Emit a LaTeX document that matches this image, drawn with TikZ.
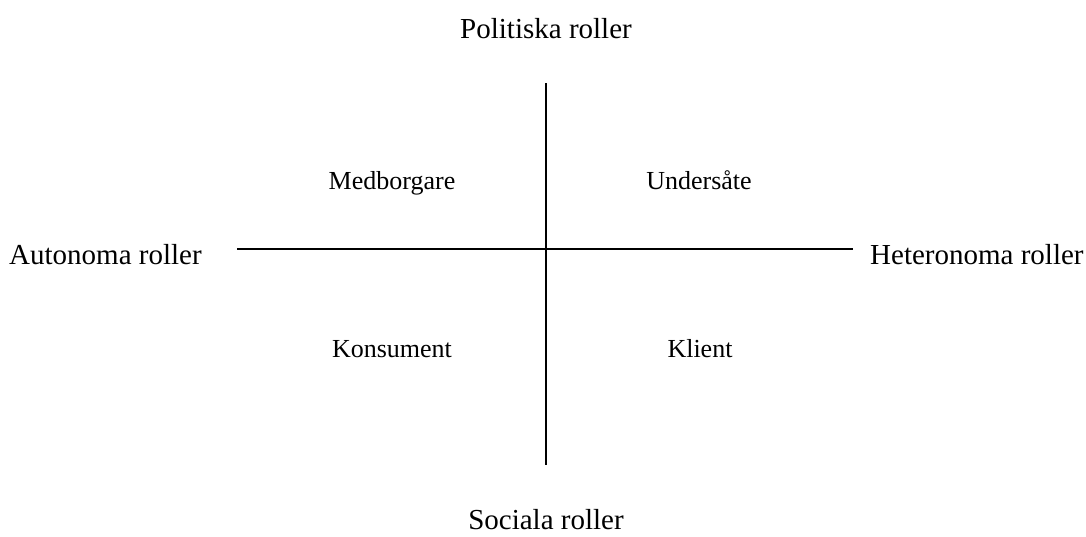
\documentclass[tikz,border=0pt]{standalone}
\usepackage{fontspec}
\setmainfont{Liberation Serif}
\begin{document}
\begin{tikzpicture}[x=1pt, y=-1pt,
    axislabel/.style={anchor=base, inner sep=0pt, font=\fontsize{29}{34}\selectfont},
    rolelabel/.style={anchor=base, inner sep=0pt, font=\fontsize{26}{31}\selectfont}]
    \useasboundingbox (0,0) rectangle (1086,536);
    % Axlarna
    \coordinate (top) at (546,83);
    \coordinate (bottom) at (546,465);
    \coordinate (left) at (237,249);
    \coordinate (right) at (853,249);
    \draw[line width=1.5pt] (top) -- (bottom);
    \draw[line width=1.5pt] (left) -- (right);

    % Axeltexter
    \node[axislabel] (pol) at (546,38) {Politiska roller};
    \node[axislabel] (soc) at (546,529) {Sociala roller};
    \node[axislabel, anchor=base west] (aut) at (9,264) {Autonoma roller};
    \node[axislabel, anchor=base west] (het) at (870,264) {Heteronoma roller};

    % Kvadranterna
    \node[rolelabel] (med) at (392,189) {Medborgare};
    \node[rolelabel] (und) at (699,189) {Undersåte};
    \node[rolelabel] (kon) at (392,357) {Konsument};
    \node[rolelabel] (kli) at (700,357) {Klient};
\end{tikzpicture}
\end{document}
